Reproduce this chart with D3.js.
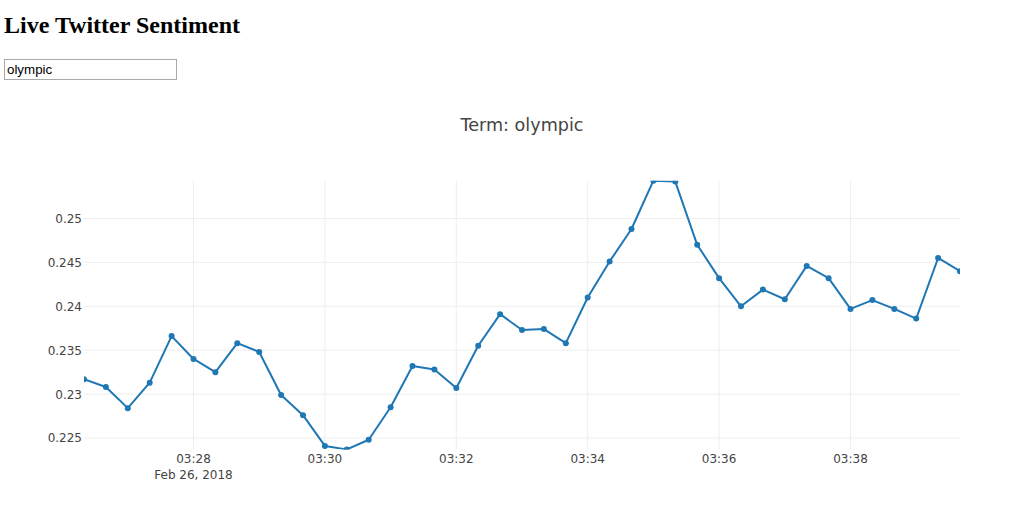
<!DOCTYPE html>
<html>
<head>
<meta charset="utf-8">
<script src="https://cdn.jsdelivr.net/npm/d3@7"></script>
<style>
  body { margin: 0; background: #fff; }
  h1 {
    position: absolute; left: 4px; top: 11px; margin: 0;
    font: bold 24px "Liberation Serif", "Times New Roman", serif;
    line-height: 28px; color: #000;
  }
  #term {
    position: absolute; left: 4px; top: 59px; width: 173px; height: 21px;
    box-sizing: border-box; border: 1px solid #a9a9a9; padding: 1px 2px;
    font: 13.33px "Liberation Sans", Arial, sans-serif; color: #000; outline: none;
  }
  svg { position: absolute; left: 0; top: 0; }
</style>
</head>
<body>
<h1>Live Twitter Sentiment</h1>
<input id="term" type="text" value="olympic">
<svg id="chart"></svg>
<script>
const width = 1009;
const height = 507;

// sample times (Feb 26, 2018) and rolling sentiment
const day = "2018-02-26";
const times = [
  "03:26:20", "03:26:40", "03:27:00", "03:27:20", "03:27:40", "03:28:00",
  "03:28:20", "03:28:40", "03:29:00", "03:29:20", "03:29:40", "03:30:00",
  "03:30:20", "03:30:40", "03:31:00", "03:31:20", "03:31:40", "03:32:00",
  "03:32:20", "03:32:40", "03:33:00", "03:33:20", "03:33:40", "03:34:00",
  "03:34:20", "03:34:40", "03:35:00", "03:35:20", "03:35:40", "03:36:00",
  "03:36:20", "03:36:40", "03:37:00", "03:37:20", "03:37:40", "03:38:00",
  "03:38:20", "03:38:40", "03:39:00", "03:39:20", "03:39:40"
];
const sentiment = [
  0.2317, 0.2308, 0.2284, 0.2313, 0.2366, 0.2340,
  0.2325, 0.2358, 0.2348, 0.2299, 0.2276, 0.2241,
  0.2237, 0.2248, 0.2285, 0.2332, 0.2328, 0.2307,
  0.2355, 0.2391, 0.2373, 0.2374, 0.2358, 0.2410,
  0.2451, 0.2488, 0.2543, 0.2542, 0.2470, 0.2432,
  0.2400, 0.2419, 0.2408, 0.2446, 0.2432, 0.2397,
  0.2407, 0.2397, 0.2386, 0.2455, 0.2440
];
const term = "olympic";

const parseTime = d3.timeParse("%Y-%m-%d %H:%M:%S");
const data = times.map((t, i) => ({ date: parseTime(`${day} ${t}`), value: sentiment[i] }));

// plot area
const margin = { top: 180.7, right: 49, bottom: 57.6, left: 84 };
const plotW = width - margin.left - margin.right;
const plotH = height - margin.top - margin.bottom;

const x = d3.scaleTime()
  .domain(d3.extent(data, d => d.date))
  .range([0, plotW]);

const y = d3.scaleLinear()
  .domain(d3.extent(data, d => d.value))
  .range([plotH, 0]);

const svg = d3.select("#chart")
  .attr("width", width)
  .attr("height", height)
  .attr("viewBox", [0, 0, width, height])
  .style("font-family", "'DejaVu Sans', Verdana, sans-serif");

svg.append("defs").append("clipPath")
  .attr("id", "plot-clip")
  .append("rect")
  .attr("width", plotW)
  .attr("height", plotH);

// chart title
svg.append("text")
  .attr("x", margin.left + plotW / 2)
  .attr("y", 130.7)
  .attr("text-anchor", "middle")
  .attr("font-size", 17.6)
  .attr("fill", "#444")
  .text(`Term: ${term}`);

const g = svg.append("g")
  .attr("transform", `translate(${margin.left},${margin.top})`);

// gridlines
const xTicks = x.ticks(d3.timeMinute.every(2));
const yTicks = y.ticks(6);

g.append("g")
  .selectAll("line")
  .data(xTicks)
  .join("line")
  .attr("x1", d => x(d))
  .attr("x2", d => x(d))
  .attr("y1", 0)
  .attr("y2", plotH)
  .attr("stroke", "#eee")
  .attr("stroke-width", 1);

g.append("g")
  .selectAll("line")
  .data(yTicks)
  .join("line")
  .attr("x1", 0)
  .attr("x2", plotW)
  .attr("y1", d => y(d))
  .attr("y2", d => y(d))
  .attr("stroke", "#eee")
  .attr("stroke-width", 1);

// y tick labels
const yFormat = d3.format(".3~f");
g.append("g")
  .selectAll("text")
  .data(yTicks)
  .join("text")
  .attr("x", -2)
  .attr("y", d => y(d))
  .attr("dy", 4.5)
  .attr("text-anchor", "end")
  .attr("font-size", 12)
  .attr("fill", "#444")
  .text(d => yFormat(d));

// x tick labels, first one carries the date
const xFormat = d3.timeFormat("%H:%M");
const dateFormat = d3.timeFormat("%b %-d, %Y");
const xLabels = g.append("g")
  .selectAll("text")
  .data(xTicks)
  .join("text")
  .attr("x", d => x(d))
  .attr("y", plotH + 13.5)
  .attr("text-anchor", "middle")
  .attr("font-size", 12)
  .attr("fill", "#444");

xLabels.append("tspan")
  .attr("x", d => x(d))
  .text(d => xFormat(d));

xLabels.filter((d, i) => i === 0)
  .append("tspan")
  .attr("x", d => x(d))
  .attr("dy", 16)
  .text(d => dateFormat(d));

// the line and its markers
const line = d3.line()
  .x(d => x(d.date))
  .y(d => y(d.value));

const plot = g.append("g").attr("clip-path", "url(#plot-clip)");

plot.append("path")
  .datum(data)
  .attr("fill", "none")
  .attr("stroke", "#1f77b4")
  .attr("stroke-width", 2)
  .attr("stroke-linejoin", "round")
  .attr("d", line);

plot.selectAll("circle")
  .data(data)
  .join("circle")
  .attr("cx", d => x(d.date))
  .attr("cy", d => y(d.value))
  .attr("r", 3)
  .attr("fill", "#1f77b4");
</script>
</body>
</html>
